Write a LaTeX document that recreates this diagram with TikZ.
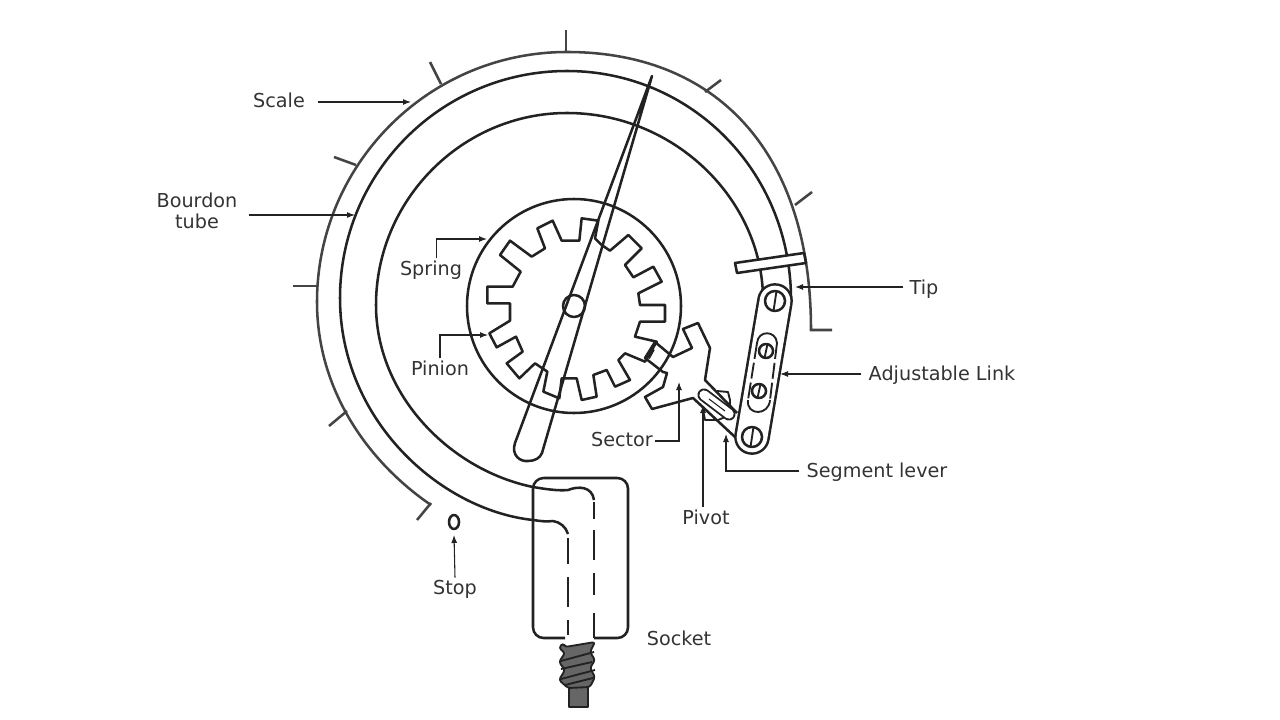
\documentclass[tikz,border=0pt]{standalone}
\usepackage{fontspec}
\setmainfont{DejaVu Sans}
\usetikzlibrary{arrows.meta,calc}
\definecolor{inkdark}{HTML}{222222}
\definecolor{inkscale}{HTML}{444444}
\definecolor{textgray}{HTML}{333333}
\definecolor{threadgray}{HTML}{666666}
\tikzset{
  mainline/.style={draw=inkdark, line width=1.9pt, line join=round},
  scaleline/.style={draw=inkscale, line width=1.9pt},
  thinline/.style={draw=inkdark, line width=1.4pt, line join=round},
  callout/.style={-{Latex[length=6pt,width=4.5pt]}, draw=inkdark, line width=0.8pt},
  partlabel/.style={font=\fontsize{14.4}{16}\selectfont, text=textgray, align=center, inner sep=1.5pt},
  slotline/.style={draw=inkdark, line width=1.4pt, double=white, line cap=round}
}
\begin{document}
\begin{tikzpicture}[x=0.75pt, y=-0.75pt]
  \useasboundingbox (0,0) rectangle (1280,720);
  % scale
  \draw[scaleline] (431,505) .. controls (368,462) and (317,390) .. (317,302)
    .. controls (317,164) and (429,52) .. (567,52)
    .. controls (715,52) and (811,150) .. (811,330) -- (832,330);
  \foreach \ax/\ay/\bx/\by in {566/30/566/52, 430/62/441/84, 721/80/705/92, 334/157/356/165,
      812/192/795/205, 293/286/317/286, 329/426/347/411, 417/520/431/503}
    \draw[scaleline] (\ax,\ay) -- (\bx,\by);
  % tube
  \draw[mainline] (791,298) .. controls (790,170) and (690,71) .. (567,71)
    .. controls (441,71) and (340,173) .. (340,298)
    .. controls (340,420) and (440,510) .. (533,520)
    .. controls (540,521) and (547,522) .. (553,521) .. controls (560,522) and (566,527) .. (568,534);
  \draw[mainline] (763,298) .. controls (762,200) and (675,113) .. (567,113)
    .. controls (462,113) and (376,200) .. (376,305)
    .. controls (376,395) and (450,470) .. (533,487)
    .. controls (545,489) and (558,491) .. (568,490) .. controls (578,486) and (592,486) .. (594,500);
  \draw[mainline, dash pattern=on 19.5pt off 9.75pt on 22.5pt off 9.75pt on 11.25pt] (568,538) -- (568,636);
  \draw[mainline, dash pattern=on 12.75pt off 8.25pt on 22.5pt off 9.75pt on 16.5pt off 13.5pt on 18.75pt] (594,502) -- (594,640);
  % socket and thread
  \draw[mainline, rounded corners=8pt] (565,638) -- (533,638) -- (533,478) -- (628,478) -- (628,638) -- (594,638);
  \draw[mainline, fill=threadgray] (569,686) rectangle (588,707);
  \draw[thinline, fill=threadgray, rounded corners=2pt] (563,643) -- (559,648) -- (565,653) -- (559,662)
    -- (565,670) -- (559,680) -- (568,688) -- (590,687) -- (595,677) -- (590,668) -- (595,660)
    -- (590,652) -- (595,642) -- (565,647) -- cycle;
  \draw[thinline] (561,661) -- (594,652) (561,669) -- (592,662) (561,679) -- (595,670) (565,685) -- (593,678);
  % pinion
  \draw[mainline] (574,306) circle (107);
  \begin{scope}[shift={(460,190)}, x=0.25pt, y=-0.25pt]
    \draw[mainline] (540,345) -- (615,345) -- (615,395) -- (540,395) -- (525,440) -- (590,455) -- (555,515)
      -- (495,490) -- (475,510) -- (510,570) -- (465,590) -- (440,540) -- (400,555) -- (410,620)
      -- (365,630) -- (350,565) -- (305,565) -- (298,625) -- (250,605) -- (262,545) -- (225,520)
      -- (178,565) -- (140,520) -- (188,485) -- (168,440) -- (110,472) -- (88,430) -- (150,392)
      -- (150,340) -- (82,340) -- (82,290) -- (158,290) -- (182,245) -- (120,195) -- (150,152)
      -- (215,200) -- (255,175) -- (232,115) -- (278,92) -- (305,152) -- (358,152) -- (365,85)
      -- (415,92) -- (405,145) -- (425,165) -- (450,182) -- (505,135) -- (545,175) -- (495,225)
      -- (520,262) -- (580,230) -- (605,275) -- (535,310) -- cycle;
  \end{scope}
  % pointer
  \draw[mainline] (652,76) -- (515,443) .. controls (511,455) and (520,462) .. (528,461)
    .. controls (535,461) and (540,458) .. (542,453) -- cycle;
  \draw[mainline] (574,306) circle (11);
  % sector
  \draw[thinline] (717,391) -- (728,392) -- (730,400) -- (730,415) -- (718,420) -- (705,420) -- (703,410);
  \draw[mainline] (735,437) -- (693,398) -- (652,409) -- (645,397) -- (663,387) -- (667,373)
    -- (663,372) -- (645,358) -- (655,342) -- (673,357) -- (692,348) -- (683,329) -- (698,323)
    -- (710,348) -- (705,380) -- (737,413);
  \draw[inkdark, line width=3pt] (648,358) -- (653,349);
  \draw[slotline, double distance=7pt] (704,395) -- (729,414);
  \draw[inkdark, line width=0.8pt] (709,399) -- (725,411);
  % link
  \draw[mainline, double=white, double distance=23pt, line cap=round] (775,301) -- (752,437);
  \draw[thinline, dash pattern=on 12pt off 3pt] (757,343) -- (748,400);
  \draw[thinline, dash pattern=on 12pt off 3pt] (777,343) -- (770,400);
  \draw[thinline] (757,343) .. controls (758,330) and (776,330) .. (777,343);
  \draw[thinline] (748,400) .. controls (746,416) and (769,416) .. (770,400);
  \foreach \sx/\sy/\sr in {775/301/10, 766/351/7, 759/391/7, 752/437/10} {
    \draw[mainline, fill=white] (\sx,\sy) circle (\sr);
    \draw[thinline] ($(\sx,\sy)+(1.5,-\sr)$) -- ($(\sx,\sy)+(-1.5,\sr)$);
  }
  % tip bar
  \draw[mainline, fill=white] (735,263) -- (804,253) -- (806,263) -- (737,273) -- cycle;
  % stop
  \draw[mainline] (454,522) ellipse (5 and 7);
  % labels
  \node[partlabel] (scale) at (279,100) {Scale};
  \node[partlabel] (bourdon) at (197,211) {Bourdon\\tube};
  \node[partlabel] (spring) at (431,270) {Spring};
  \node[partlabel] (pinion) at (440,368) {Pinion};
  \node[partlabel] (stop) at (455,589) {Stop};
  \node[partlabel] (socket) at (679,638) {Socket};
  \node[partlabel] (pivot) at (706,517) {Pivot};
  \node[partlabel] (sector) at (622,440) {Sector};
  \node[partlabel] (seglever) at (877,472) {Segment lever};
  \node[partlabel] (adjlink) at (942,375) {Adjustable Link};
  \node[partlabel] (tip) at (924,289) {Tip};
  \coordinate (scalept) at (411,102);
  \coordinate (bourdonpt) at (355,215);
  \coordinate (springpt) at (487,239);
  \coordinate (pinionpt) at (488,335);
  \coordinate (stoppt) at (454,535);
  \coordinate (pivotpt) at (703,405);
  \coordinate (sectorpt) at (679,382);
  \coordinate (segleverpt) at (726,434);
  \coordinate (adjlinkpt) at (780,374);
  \coordinate (tippt) at (795,287);
  \draw[callout] (scale.east |- scalept) ++(11,0) -- (scalept);
  \draw[callout] (bourdon.east |- bourdonpt) ++(9,0) -- (bourdonpt);
  \draw[callout] ([xshift=4pt]spring.north) |- (springpt);
  \draw[callout] (pinion.north) |- (pinionpt);
  \draw[callout] (stop.north) -- (stoppt);
  \draw[callout] (pivot.north -| pivotpt) -- (pivotpt);
  \draw[callout] (sector.east) ++(0,1) -| (sectorpt);
  \draw[callout] (seglever.west) ++(-5,-1) -| (segleverpt);
  \draw[callout] (adjlink.west |- adjlinkpt) ++(-5,0) -- (adjlinkpt);
  \draw[callout] (tip.west |- tippt) ++(-4,0) -- (tippt);
\end{tikzpicture}
\end{document}
